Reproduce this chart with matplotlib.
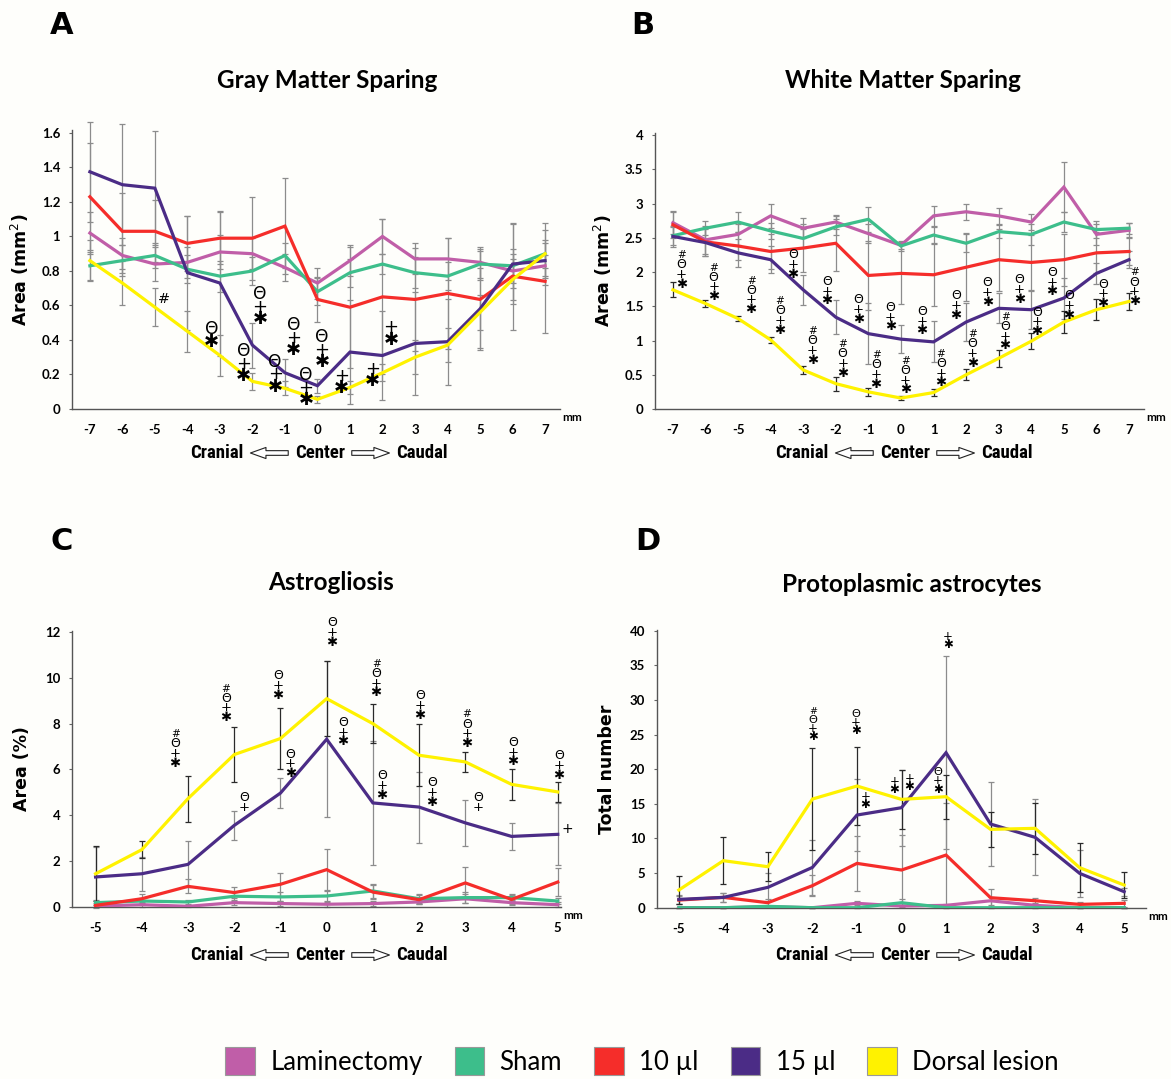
import matplotlib
matplotlib.use("Agg")
import matplotlib.pyplot as plt
from matplotlib.patches import Patch, FancyArrowPatch

W, H = 1171, 1079

# ---- data ----
groups = ["Laminectomy", "Sham", "10 µl", "15 µl", "Dorsal lesion"]
colors = ["#C05EA8", "#3DBE8B", "#F52D2A", "#4B2C86", "#FFF200"]

x_long = [-7, -6, -5, -4, -3, -2, -1, 0, 1, 2, 3, 4, 5, 6, 7]
x_short = [-5, -4, -3, -2, -1, 0, 1, 2, 3, 4, 5]

# A - gray matter sparing (mm2)
lam_A = [1.02, 0.89, 0.84, 0.85, 0.91, 0.90, 0.82, 0.73, 0.86, 1.00, 0.87, 0.87, 0.85, 0.80, 0.83]
sham_A = [0.83, 0.86, 0.89, 0.81, 0.77, 0.80, 0.89, 0.68, 0.79, 0.84, 0.79, 0.77, 0.84, 0.83, 0.90]
ten_A = [1.23, 1.03, 1.03, 0.96, 0.99, 0.99, 1.06, 0.635, 0.59, 0.65, 0.635, 0.67, 0.635, 0.77, 0.74]
fifteen_A = [1.375, 1.30, 1.28, 0.79, 0.73, 0.37, 0.21, 0.135, 0.33, 0.31, 0.38, 0.39, 0.58, 0.84, 0.86]
dorsal_A = [0.86, 0.73, 0.59, 0.45, 0.31, 0.16, 0.12, 0.056, 0.125, 0.21, 0.30, 0.37, 0.56, 0.75, 0.90]
lam_A_sd = [0.12, 0.10, 0.10, 0.09, 0.10, 0.09, 0.08, 0.09, 0.09, 0.10, 0.09, 0.12, 0.09, 0.10, 0.06]
sham_A_sd = [0.08, 0.09, 0.07, 0.08, 0.09, 0.08, 0.07, 0.08, 0.08, 0.06, 0.09, 0.08, 0.09, 0.10, 0.18]
ten_A_sd = [0.31, 0.22, 0.18, 0.16, 0.15, 0.24, 0.28, 0.13, 0.35, 0.45, 0.30, 0.32, 0.28, 0.31, 0.30]
fifteen_A_sd = [0.29, 0.35, 0.33, 0.33, 0.42, 0.13, 0.08, 0.04, 0.30, 0.26, 0.30, 0.25, 0.24, 0.23, 0.10]
dorsal_A_sd = [0.12, 0.13, 0.11, 0.12, 0.12, 0.05, 0.04, 0.02, 0.04, 0.05, 0.10, 0.10, 0.10, 0.12, 0.08]

# B - white matter sparing (mm2)
lam_B = [2.72, 2.47, 2.55, 2.82, 2.64, 2.73, 2.56, 2.39, 2.82, 2.88, 2.82, 2.73, 3.24, 2.55, 2.61]
sham_B = [2.53, 2.64, 2.73, 2.60, 2.49, 2.66, 2.77, 2.38, 2.54, 2.42, 2.59, 2.55, 2.73, 2.62, 2.64]
ten_B = [2.69, 2.44, 2.38, 2.30, 2.35, 2.42, 1.95, 1.98, 1.96, 2.07, 2.18, 2.14, 2.18, 2.28, 2.30]
fifteen_B = [2.52, 2.43, 2.28, 2.18, 1.74, 1.34, 1.10, 1.02, 0.98, 1.27, 1.47, 1.45, 1.62, 1.98, 2.18]
dorsal_B = [1.74, 1.54, 1.32, 1.01, 0.57, 0.37, 0.25, 0.16, 0.24, 0.50, 0.74, 0.99, 1.27, 1.45, 1.57]
lam_B_sd = [0.16, 0.20, 0.15, 0.17, 0.15, 0.10, 0.14, 0.05, 0.15, 0.12, 0.12, 0.12, 0.36, 0.15, 0.10]
sham_B_sd = [0.13, 0.10, 0.15, 0.12, 0.14, 0.12, 0.18, 0.08, 0.12, 0.13, 0.10, 0.15, 0.15, 0.12, 0.08]
ten_B_sd = [0.20, 0.20, 0.20, 0.25, 0.35, 0.40, 0.50, 0.45, 0.45, 0.50, 0.45, 0.40, 0.38, 0.30, 0.20]
fifteen_B_sd = [0.15, 0.20, 0.20, 0.20, 0.22, 0.25, 0.45, 0.20, 0.30, 0.28, 0.22, 0.28, 0.30, 0.15, 0.12]
dorsal_B_sd = [0.11, 0.05, 0.04, 0.04, 0.06, 0.10, 0.06, 0.03, 0.05, 0.08, 0.12, 0.12, 0.16, 0.15, 0.12]

# C - astrogliosis (%)
lam_C = [0.04, 0.10, 0.03, 0.19, 0.15, 0.12, 0.15, 0.22, 0.36, 0.19, 0.10]
sham_C = [0.19, 0.26, 0.22, 0.47, 0.44, 0.48, 0.70, 0.36, 0.41, 0.41, 0.26]
ten_C = [0.07, 0.36, 0.90, 0.63, 0.99, 1.63, 0.65, 0.32, 1.05, 0.33, 1.09]
fifteen_C = [1.31, 1.45, 1.86, 3.56, 4.97, 7.32, 4.54, 4.36, 3.67, 3.08, 3.17]
dorsal_C = [1.45, 2.50, 4.73, 6.65, 7.35, 9.09, 8.00, 6.62, 6.33, 5.35, 5.02]
lam_C_sd = [0.05, 0.10, 0.05, 0.10, 0.10, 0.10, 0.10, 0.10, 0.20, 0.10, 0.10]
sham_C_sd = [0.10, 0.15, 0.10, 0.20, 0.20, 0.20, 0.30, 0.20, 0.25, 0.15, 0.15]
ten_C_sd = [0.10, 0.20, 0.30, 0.25, 0.50, 0.90, 0.30, 0.20, 0.70, 0.20, 0.60]
fifteen_C_sd = [1.30, 0.75, 1.00, 0.62, 0.64, 3.40, 2.70, 1.55, 1.00, 0.58, 1.35]
dorsal_C_sd = [1.20, 0.38, 1.00, 1.20, 1.35, 1.65, 0.85, 1.35, 0.42, 0.68, 0.45]

# D - protoplasmic astrocytes (total number)
lam_D = [0, 0, 0.14, 0, 0.63, 0.24, 0.34, 1.0, 0.34, 0, 0]
sham_D = [0, 0, 0.2, 0, 0, 0.72, 0, 0, 0, 0, 0]
ten_D = [1.1, 1.49, 0.72, 3.18, 6.4, 5.44, 7.6, 1.44, 1.01, 0.48, 0.63]
fifteen_D = [1.2, 1.49, 2.94, 5.82, 13.38, 14.44, 22.38, 12.08, 10.16, 4.96, 2.31]
dorsal_D = [2.55, 6.79, 5.92, 15.69, 17.57, 15.64, 16.03, 11.31, 11.46, 5.78, 3.27]
lam_D_sd = [0, 0, 0.1, 0, 0.3, 0.2, 0.2, 0.6, 0.2, 0, 0]
sham_D_sd = [0, 0, 0.1, 0, 0, 0.5, 0, 0, 0, 0, 0]
ten_D_sd = [0.6, 0.6, 0.5, 1.5, 4.0, 5.1, 7.5, 1.3, 0.4, 0.4, 0.5]
fifteen_D_sd = [0.6, 0.6, 2.0, 4.0, 5.2, 5.5, 13.9, 6.0, 5.5, 3.4, 0.6]
dorsal_D_sd = [2.0, 3.4, 2.1, 7.4, 5.6, 4.3, 3.2, 2.5, 3.7, 3.5, 1.9]

# significance marks (x, y of lowest symbol, stack top->bottom)
ann_A_x = [-4.73, -3.25, -2.28, -1.77, -1.30, -0.73, -0.35, 0.14, 0.75, 1.69, 2.26]
ann_A_y = [0.64, 0.39, 0.19, 0.52, 0.13, 0.34, 0.05, 0.27, 0.12, 0.16, 0.40]
ann_A_s = ["#", "O*", "O+*", "O+*", "O+*", "O+*", "O+*", "O+*", "+*", "+*", "+*"]

ann_B_x = [-6.74, -5.75, -4.60, -3.72, -3.32, -2.72, -2.28, -1.79, -1.31, -0.76, -0.32, 0.14,
           0.65, 1.23, 1.68, 2.19, 2.66, 3.20, 3.63, 4.17, 4.64, 5.16, 6.20, 7.17]
ann_B_y = [1.82, 1.64, 1.45, 1.15, 1.97, 0.71, 1.58, 0.52, 1.31, 0.36, 1.20, 0.28,
           1.14, 0.38, 1.37, 0.67, 1.56, 0.92, 1.60, 1.13, 1.71, 1.37, 1.54, 1.57]
ann_B_s = ["#O+*", "#O+*", "#O+*", "#O+*", "O+*", "#O+*", "O+*", "#O+*", "O+*", "#O+*", "O+*", "#O+*",
           "O+*", "#O+*", "O+*", "#O+*", "O+*", "#O+*", "O+*", "O+*", "O+*", "O+*", "O+*", "#O+*"]

ann_C_x = [-3.28, -2.18, -1.78, -1.05, -0.78, 0.11, 0.35, 1.07, 1.20, 2.02, 2.28, 3.03, 3.27, 4.03, 5.02]
ann_C_y = [6.28, 8.26, 4.36, 9.24, 5.82, 11.56, 7.20, 9.34, 4.87, 8.36, 4.58, 7.13, 4.36, 6.33, 5.75]
ann_C_s = ["#O+*", "#O+*", "O+", "O+*", "O+*", "O+*", "O+*", "#O+*", "O+*", "O+*", "O+*", "#O+*", "O+", "O+*", "O+*"]

ann_D_x = [-1.99, -1.02, -0.81, -0.16, 0.18, 0.82, 1.04]
ann_D_y = [24.7, 25.56, 14.83, 17.0, 17.47, 17.14, 38.0]
ann_D_s = ["#O+*", "O+*", "+*", "+*", "+*", "O+*", "+*"]

glyph = {"O": "Θ", "+": "+", "*": "✱", "#": "#"}

plt.rcParams["font.family"] = ["Lato", "DejaVu Sans"]
fig = plt.figure(figsize=(W / 100, H / 100), dpi=100, facecolor="#fefefb")
renderer = fig.canvas.get_renderer()


def px_axes(left, top, right, bottom):
    return fig.add_axes([left / W, 1 - bottom / H, (right - left) / W, (bottom - top) / H])


def fx(x):
    return x / W


def fy(y):
    return 1 - y / H


def draw_panel(ax, xs, series, sds, bar_cols, ylim, yticks, yticklabels, xlim, lw_err):
    pos = list(range(len(xs)))
    for vals, sd, c, bc in zip(series, sds, colors, bar_cols):
        ax.errorbar(pos, vals, yerr=sd, fmt="none", ecolor=bc, elinewidth=lw_err,
                    capsize=2.4, capthick=lw_err, clip_on=False, zorder=2)
    for vals, c in zip(series, colors):
        ax.plot(pos, vals, color=c, lw=2.3, zorder=3, solid_joinstyle="miter")
    ax.set_xlim(xlim)
    ax.set_ylim(ylim)
    ax.set_facecolor("none")
    ax.set_xticks(pos)
    ax.set_xticklabels([str(v) for v in xs], fontweight="bold", fontsize=9.5)
    ax.set_yticks(yticks)
    ax.set_yticklabels(yticklabels, fontweight="bold", fontsize=9.5)
    ax.tick_params(axis="x", length=0, pad=11)
    ax.tick_params(axis="y", length=2.5, width=0.8, color="#666", pad=6)
    for s in ["top", "right"]:
        ax.spines[s].set_visible(False)
    for s in ["left", "bottom"]:
        ax.spines[s].set_color("#555")
        ax.spines[s].set_linewidth(1.0)
    ax.text(1.005, -0.03, "mm", transform=ax.transAxes, fontsize=8.5, fontweight="bold",
            ha="left", va="center")


def draw_marks(ax, xs0, xs, ys, syms, size, step):
    for x, y, s in zip(xs, ys, syms):
        xi = x - xs0
        for k, ch in enumerate(reversed(s)):
            fs = size * (1.0 if ch != "#" else 0.8)
            if ch == "O":
                fs = size * 0.95
            ax.annotate(glyph[ch], (xi, y), xytext=(0, k * step), textcoords="offset points",
                        ha="center", va="center", fontsize=fs, family="DejaVu Sans",
                        fontweight="bold" if ch == "*" else "normal", zorder=5,
                        annotation_clip=False)


def cranial_row(cx, y):
    f = ["Roboto Condensed", "Liberation Sans Narrow", "Lato"]
    kw = dict(va="center", fontsize=13.5, fontweight="bold", family=f)
    t1 = fig.text(fx(cx - 103), fy(y), "Cranial", ha="center", **kw)
    t2 = fig.text(fx(cx), fy(y), "Center", ha="center", **kw)
    t3 = fig.text(fx(cx + 102), fy(y), "Caudal", ha="center", **kw)
    b1 = t1.get_window_extent(renderer)
    b2 = t2.get_window_extent(renderer)
    b3 = t3.get_window_extent(renderer)
    for a, b in [((b2.x0 - 4), (b1.x1 + 4)), ((b2.x1 + 4), (b3.x0 - 4))]:
        arr = FancyArrowPatch((a / W, fy(y)), (b / W, fy(y)),
                              transform=fig.transFigure,
                              arrowstyle="simple,head_length=1.4,head_width=1.0,tail_width=0.42",
                              mutation_scale=8, fc="white", ec="#222", lw=0.8)
        fig.add_artist(arr)


gray = "#8c8c8c"
dark = "#2a2a2a"

# Panel A
axA = px_axes(72, 129.5, 560, 409)
draw_panel(axA, x_long, [lam_A, sham_A, ten_A, fifteen_A, dorsal_A],
           [lam_A_sd, sham_A_sd, ten_A_sd, fifteen_A_sd, dorsal_A_sd],
           [gray] * 5, (0, 1.62), [0, 0.2, 0.4, 0.6, 0.8, 1.0, 1.2, 1.4, 1.6],
           ["0", "0.2", "0.4", "0.6", "0.8", "1", "1.2", "1.4", "1.6"], (-0.55, 14.46), 0.9)
draw_marks(axA, -7, ann_A_x, ann_A_y, ann_A_s, 13, 9)
axA.set_ylabel("Area (mm$^2$)", fontsize=12.5, fontweight="bold", family="DejaVu Sans")
axA.yaxis.set_label_coords(-0.083, 0.5)

# Panel B
axB = px_axes(655, 133, 1144, 409)
draw_panel(axB, x_long, [lam_B, sham_B, ten_B, fifteen_B, dorsal_B],
           [lam_B_sd, sham_B_sd, ten_B_sd, fifteen_B_sd, dorsal_B_sd],
           [gray, gray, gray, gray, dark], (0, 4.03), [0, 0.5, 1, 1.5, 2, 2.5, 3, 3.5, 4],
           ["0", "0.5", "1", "1.5", "2", "2.5", "3", "3.5", "4"], (-0.55, 14.46), 0.9)
draw_marks(axB, -7, ann_B_x, ann_B_y, ann_B_s, 9.5, 7)
axB.set_ylabel("Area (mm$^2$)", fontsize=12.5, fontweight="bold", family="DejaVu Sans")
axB.yaxis.set_label_coords(-0.083, 0.5)

# Panel C
axC = px_axes(72, 630.8, 561, 907)
draw_panel(axC, x_short, [lam_C, sham_C, ten_C, fifteen_C, dorsal_C],
           [lam_C_sd, sham_C_sd, ten_C_sd, fifteen_C_sd, dorsal_C_sd],
           [gray, gray, gray, gray, dark], (0, 12.05), [0, 2, 4, 6, 8, 10, 12],
           ["0", "2", "4", "6", "8", "10", "12"], (-0.51, 10.07), 0.9)
draw_marks(axC, -5, ann_C_x, ann_C_y, ann_C_s, 9.5, 7)
axC.text(5.2 + 5, 3.42, "+", fontsize=10, ha="center", va="center", family="DejaVu Sans")
axC.set_ylabel("Area (%)", fontsize=12.5, fontweight="bold", family="DejaVu Sans")
axC.yaxis.set_label_coords(-0.083, 0.5)

# Panel D
axD = px_axes(657, 630, 1146, 907.7)
draw_panel(axD, x_short, [lam_D, sham_D, ten_D, fifteen_D, dorsal_D],
           [lam_D_sd, sham_D_sd, ten_D_sd, fifteen_D_sd, dorsal_D_sd],
           [gray, gray, gray, gray, dark], (0, 40.1), [0, 5, 10, 15, 20, 25, 30, 35, 40],
           ["0", "5", "10", "15", "20", "25", "30", "35", "40"], (-0.49, 10.49), 0.9)
draw_marks(axD, -5, ann_D_x, ann_D_y, ann_D_s, 8.5, 6)
axD.set_ylabel("Total number", fontsize=12.5, fontweight="bold", family="DejaVu Sans")
axD.yaxis.set_label_coords(-0.083, 0.5)

# titles and panel letters
for (lx, ly, letter), (tx, ty, title) in zip(
        [(62, 25, "A"), (643, 25, "B"), (62, 541, "C"), (648, 541, "D")],
        [(327, 80, "Gray Matter Sparing"), (903, 80, "White Matter Sparing"),
         (331, 582, "Astrogliosis"), (912, 584, "Protoplasmic astrocytes")]):
    fig.text(fx(lx), fy(ly), letter, ha="center", va="center", fontsize=22,
             fontweight="bold", family="DejaVu Sans")
    fig.text(fx(tx), fy(ty), title, ha="center", va="center", fontsize=17.5, fontweight="bold")

cranial_row(320, 453)
cranial_row(905, 453)
cranial_row(320, 955)
cranial_row(905, 955)

handles = [Patch(facecolor=c, edgecolor="#999", lw=0.8, label=g) for c, g in zip(colors, groups)]
fig.legend(handles=handles, loc="center", bbox_to_anchor=(fx(642), fy(1061)), ncol=5,
           frameon=False, fontsize=18.5, handlelength=1.15, handleheight=1.3,
           handletextpad=0.6, columnspacing=1.25, borderaxespad=0, borderpad=0)

fig.savefig("out.png", dpi=100, facecolor=fig.get_facecolor())
